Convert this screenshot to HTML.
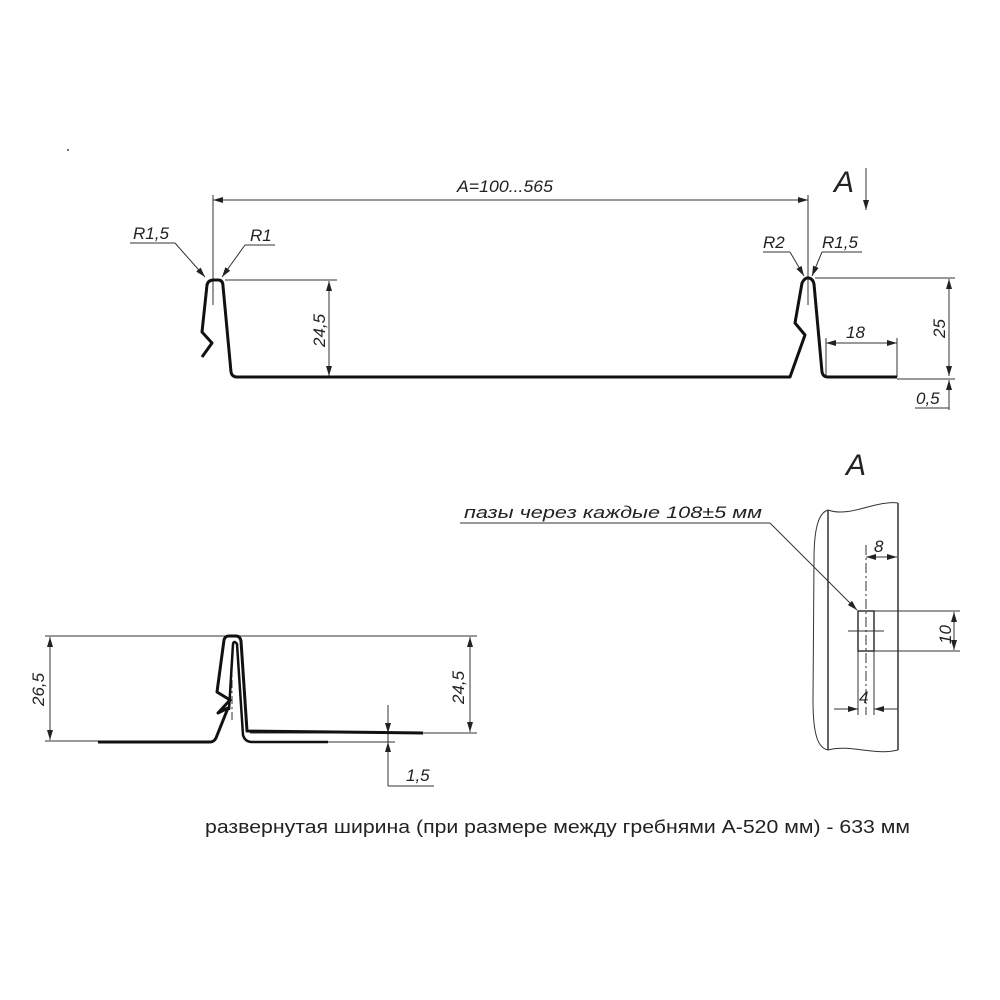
<!DOCTYPE html>
<html><head><style>body{margin:0;background:#fff}svg{display:block}
text{font-family:"Liberation Sans",sans-serif;fill:#222}
.i{font-style:italic}</style></head><body>
<svg width="1000" height="1000" viewBox="0 0 1000 1000">
<defs><marker id="a" viewBox="0 0 10 6" refX="10" refY="3" markerWidth="10" markerHeight="6" orient="auto-start-reverse" markerUnits="userSpaceOnUse"><path d="M0,0L10,3L0,6z" fill="#222"/></marker></defs>
<circle cx="68" cy="150" r="1" fill="#444"/>
<g stroke="#333" stroke-width="1" fill="none">
<line x1="213" y1="200" x2="808" y2="200" marker-start="url(#a)" marker-end="url(#a)"/>
<line x1="213" y1="195" x2="213" y2="305"/><line x1="808" y1="195" x2="808" y2="305"/>
<line x1="225" y1="280" x2="337" y2="280"/><line x1="329" y1="281" x2="329" y2="376" marker-start="url(#a)" marker-end="url(#a)"/>
<line x1="815" y1="278" x2="955" y2="278"/><line x1="949" y1="279" x2="949" y2="376" marker-start="url(#a)" marker-end="url(#a)"/>
<line x1="897" y1="379" x2="955" y2="379"/><line x1="949" y1="410" x2="949" y2="380" marker-end="url(#a)"/><line x1="915" y1="408" x2="949" y2="408"/>
<line x1="826" y1="343" x2="897" y2="343" marker-start="url(#a)" marker-end="url(#a)"/>
<line x1="826" y1="338" x2="826" y2="377"/><line x1="897" y1="338" x2="897" y2="377"/>
<line x1="130" y1="243" x2="175" y2="243"/><line x1="175" y1="243" x2="205" y2="277" marker-end="url(#a)"/>
<line x1="245" y1="245" x2="275" y2="245"/><line x1="245" y1="245" x2="222" y2="277" marker-end="url(#a)"/>
<line x1="763" y1="252" x2="790" y2="252"/><line x1="790" y1="252" x2="804" y2="276" marker-end="url(#a)"/>
<line x1="822" y1="252" x2="862" y2="252"/><line x1="822" y1="252" x2="812" y2="276" marker-end="url(#a)"/>
<line x1="866" y1="168" x2="866" y2="210" marker-end="url(#a)"/>
<line x1="45" y1="636" x2="477" y2="636"/><line x1="45" y1="741" x2="215" y2="741"/>
<line x1="250" y1="733" x2="477" y2="733"/><line x1="250" y1="742" x2="395" y2="742"/>
<line x1="50" y1="637" x2="50" y2="740" marker-start="url(#a)" marker-end="url(#a)"/>
<line x1="470" y1="637" x2="470" y2="732" marker-start="url(#a)" marker-end="url(#a)"/>
<line x1="388" y1="705" x2="388" y2="733" marker-end="url(#a)"/><line x1="388" y1="786" x2="388" y2="742" marker-end="url(#a)"/>
<line x1="388" y1="733" x2="388" y2="742"/><line x1="388" y1="786" x2="434" y2="786"/>
<line x1="232" y1="648" x2="232" y2="720" stroke-dasharray="8,3,2,3"/>
<path d="M828,510 C818,513 814,530 814,560 L813,700 C813,735 818,748 828,750"/>
<line x1="828" y1="510" x2="828" y2="750" stroke-width="1.5"/><line x1="898" y1="503" x2="898" y2="750" stroke-width="1.5"/>
<path d="M828,510 C850,518 875,500 898,503"/><path d="M828,750 C850,744 875,756 898,750"/>
<rect x="858" y="611" width="16" height="40" stroke-width="1.5"/>
<line x1="866" y1="545" x2="866" y2="715" stroke-dasharray="10,3,2,3"/>
<line x1="848" y1="631" x2="884" y2="631"/>
<line x1="874" y1="611" x2="960" y2="611"/><line x1="874" y1="651" x2="960" y2="651"/>
<line x1="954" y1="612" x2="954" y2="650" marker-start="url(#a)" marker-end="url(#a)"/>
<line x1="866" y1="557" x2="897" y2="557" marker-start="url(#a)" marker-end="url(#a)"/>
<line x1="858" y1="651" x2="858" y2="715"/><line x1="874" y1="651" x2="874" y2="715"/>
<line x1="834" y1="709" x2="858" y2="709" marker-end="url(#a)"/><line x1="898" y1="709" x2="874" y2="709" marker-end="url(#a)"/>
<line x1="460" y1="523" x2="770" y2="523"/><line x1="770" y1="523" x2="857" y2="610" marker-end="url(#a)"/>
</g>
<g stroke="#111" stroke-width="3" fill="none" stroke-linejoin="round">
<path d="M202,357 L212,343 L202,332 L207,285 Q208,280 214,280 L218,280 Q223,280 223,286 L231,372 Q232,377 237,377 L790,377 L805,335 L795,323 L802,283 Q805,277 809,278 Q813,279 814,284 L822,372 Q823,377 828,377 L897,377"/>
<path d="M98,742 L210,742 Q214,742 216,738 L228,708 L218,713 L230,700 L217,692 L224,640 Q225,636 229,636 L236,636 Q240,636 241,641 L247,731 L423,733"/>
<path d="M229,710 L233,644 Q234,640 237,644 L243,735 Q245,742 252,742 L328,742" stroke-width="2.5"/>
</g>
<g class="i" font-size="17">
<text x="457" y="192" textLength="96" lengthAdjust="spacingAndGlyphs">A=100...565</text>
<text x="133" y="239">R1,5</text><text x="250" y="241">R1</text>
<text x="763" y="248">R2</text><text x="822" y="248">R1,5</text>
<text x="846" y="338">18</text>
<text x="916" y="404">0,5</text>
<text transform="translate(325,347) rotate(-90)">24,5</text>
<text transform="translate(945,338) rotate(-90)">25</text>
<text transform="translate(44,706) rotate(-90)">26,5</text>
<text transform="translate(464,704) rotate(-90)">24,5</text>
<text x="406" y="781">1,5</text>
<text x="874" y="552">8</text>
<text x="859" y="703">4</text>
<text transform="translate(951,644) rotate(-90)">10</text>
<text x="464" y="518" textLength="298" lengthAdjust="spacingAndGlyphs">пазы через каждые 108±5 мм</text>
<text x="834" y="192" font-size="30">A</text>
<text x="846" y="475" font-size="30">A</text>
</g>
<text x="205" y="833" font-size="18" textLength="705" lengthAdjust="spacingAndGlyphs">развернутая ширина (при размере между гребнями А-520 мм) - 633 мм</text>
</svg>
</body></html>
